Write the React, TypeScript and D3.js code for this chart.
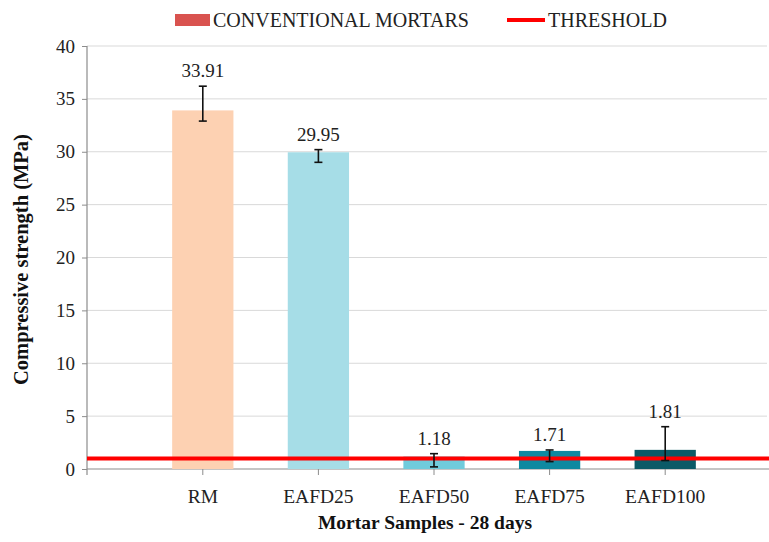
import { useRef, useEffect } from "react";
import * as d3 from 'd3';

const categories = ['RM', 'EAFD25', 'EAFD50', 'EAFD75', 'EAFD100'];
const values = [33.91, 29.95, 1.18, 1.71, 1.81];
const errUp = [36.2, 30.2, 1.45, 1.8, 4.0];
const errDown = [32.9, 29.0, 0.2, 0.7, 0.8];
const barColours = ['#FDD1B2', '#A6DDE7', '#70CBDC', '#0E89A0', '#0B5A67'];
const yTicks = [0, 5, 10, 15, 20, 25, 30, 35, 40];
const threshold = 1;

const W = 769, H = 542;
const left = 87, right = 769, top = 46, bottom = 469;
const serif = '"Liberation Serif", "Times New Roman", serif';

function App() {
    const ref = useRef<SVGSVGElement>(null);

    useEffect(() => {
        const svg = d3.select(ref.current);
        svg.selectAll('*').remove();

        const y = d3.scaleLinear().domain([0, 40]).range([bottom, top]);
        const x = d3.scaleBand()
            .domain(categories)
            .range([145, 723])
            .paddingInner(0.47)
            .paddingOuter(0.235);

        // grid
        svg.append('g')
            .selectAll('line')
            .data(yTicks.filter(t => t > 0))
            .join('line')
            .attr('x1', left).attr('x2', right - 2)
            .attr('y1', d => y(d)).attr('y2', d => y(d))
            .attr('stroke', '#d9d9d9').attr('stroke-width', 1);

        // y axis
        const ya = svg.append('g')
            .attr('transform', `translate(${left},0)`)
            .call(d3.axisLeft(y).tickValues(yTicks).tickSize(5).tickSizeOuter(0).tickPadding(7));
        ya.select('.domain').remove();
        ya.selectAll('line').attr('stroke', '#8c8c8c');
        ya.selectAll('text').attr('font-family', serif).attr('font-size', 19).attr('fill', '#222');
        svg.append('line')
            .attr('x1', left).attr('x2', left).attr('y1', top).attr('y2', bottom + 6)
            .attr('stroke', '#8c8c8c').attr('stroke-width', 1.2);

        // x axis
        const xa = svg.append('g')
            .attr('transform', `translate(0,${bottom})`)
            .call(d3.axisBottom(x).tickSize(6).tickSizeOuter(0).tickPadding(14));
        xa.select('.domain').remove();
        xa.selectAll('line').attr('stroke', '#8c8c8c');
        xa.selectAll('text').attr('font-family', serif).attr('font-size', 19.5).attr('fill', '#222');
        svg.append('line')
            .attr('x1', left).attr('x2', right).attr('y1', bottom).attr('y2', bottom)
            .attr('stroke', '#8c8c8c').attr('stroke-width', 1.2);

        // bars
        svg.append('g')
            .selectAll('rect')
            .data(categories)
            .join('rect')
            .attr('x', d => x(d)!)
            .attr('width', x.bandwidth())
            .attr('y', (_, i) => y(values[i]))
            .attr('height', (_, i) => y(0) - y(values[i]))
            .attr('fill', (_, i) => barColours[i]);

        // threshold
        svg.append('line')
            .attr('x1', left).attr('x2', right)
            .attr('y1', y(threshold)).attr('y2', y(threshold))
            .attr('stroke', '#FF0000').attr('stroke-width', 4);

        // error bars
        const eb = svg.append('g').attr('stroke', '#111').attr('stroke-width', 1.6);
        categories.forEach((c, i) => {
            const cx = x(c)! + x.bandwidth() / 2;
            eb.append('line').attr('x1', cx).attr('x2', cx).attr('y1', y(errUp[i])).attr('y2', y(errDown[i]));
            eb.append('line').attr('x1', cx - 4).attr('x2', cx + 4).attr('y1', y(errUp[i])).attr('y2', y(errUp[i]));
            eb.append('line').attr('x1', cx - 4).attr('x2', cx + 4).attr('y1', y(errDown[i])).attr('y2', y(errDown[i]));
        });

        // value labels
        svg.append('g')
            .selectAll('text')
            .data(categories)
            .join('text')
            .attr('x', d => x(d)! + x.bandwidth() / 2)
            .attr('y', (_, i) => y(errUp[i]) - 9)
            .attr('text-anchor', 'middle')
            .attr('font-family', serif).attr('font-size', 19).attr('fill', '#222')
            .text((_, i) => values[i].toFixed(2));

        // axis titles
        svg.append('text')
            .attr('x', 425).attr('y', 529)
            .attr('text-anchor', 'middle')
            .attr('font-family', serif).attr('font-size', 19.5).attr('font-weight', 'bold').attr('fill', '#111')
            .text('Mortar Samples - 28 days');
        svg.append('text')
            .attr('transform', `translate(28,${(top + bottom) / 2 + 2}) rotate(-90)`)
            .attr('text-anchor', 'middle')
            .attr('font-family', serif).attr('font-size', 20.5).attr('font-weight', 'bold').attr('fill', '#111')
            .text('Compressive strength (MPa)');

        // legend
        const lg = svg.append('g');
        lg.append('rect').attr('x', 175).attr('y', 14).attr('width', 35).attr('height', 12).attr('fill', '#D9534F');
        lg.append('text').attr('x', 213).attr('y', 27)
            .attr('font-family', serif).attr('font-size', 20).attr('fill', '#222')
            .text('CONVENTIONAL MORTARS');
        lg.append('line').attr('x1', 507).attr('x2', 545).attr('y1', 20).attr('y2', 20)
            .attr('stroke', '#FF0000').attr('stroke-width', 4);
        lg.append('text').attr('x', 548).attr('y', 27)
            .attr('font-family', serif).attr('font-size', 20).attr('fill', '#222')
            .text('THRESHOLD');
    }, []);

    return (
        <svg ref={ref} width={W} height={H}
            style={{ position: 'fixed', left: 0, top: 0, background: '#fff' }} />
    );
}

export default App;
